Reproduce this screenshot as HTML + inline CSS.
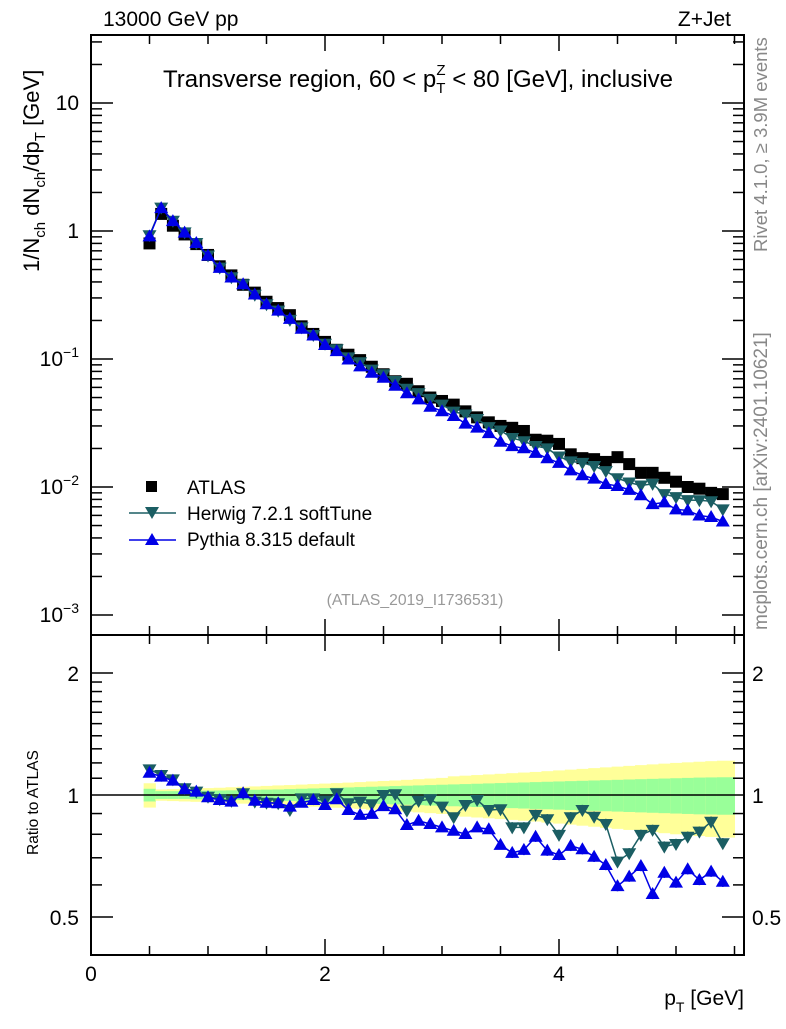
<!DOCTYPE html>
<html><head><meta charset="utf-8"><style>
body{margin:0;background:#fff;width:786px;height:1024px;overflow:hidden}
svg{font-family:"Liberation Sans",sans-serif}
</style></head><body>
<svg id="c" width="786" height="1024" xmlns="http://www.w3.org/2000/svg"></svg>
<script>
const xs=[0.5,0.6,0.7,0.8,0.9,1.0,1.1,1.2,1.3,1.4,1.5,1.6,1.7,1.8,1.9,2.0,2.1,2.2,2.3,2.4,2.5,2.6,2.7,2.8,2.9,3.0,3.1,3.2,3.3,3.4,3.5,3.6,3.7,3.8,3.9,4.0,4.1,4.2,4.3,4.4,4.5,4.6,4.7,4.8,4.9,5.0,5.1,5.2,5.3,5.4];
const atlas=[0.80,1.36,1.10,0.94,0.79,0.65,0.53,0.45,0.38,0.33,0.28,0.25,0.22,0.18,0.157,0.136,0.118,0.108,0.098,0.087,0.076,0.067,0.064,0.056,0.050,0.047,0.044,0.039,0.035,0.032,0.030,0.029,0.0274,0.0234,0.023,0.0217,0.018,0.0168,0.0165,0.0157,0.0171,0.0151,0.0129,0.0129,0.0118,0.0110,0.0100,0.0097,0.0090,0.0088];
const herwigRatio=[1.157,1.12,1.093,1.039,1.019,0.99,0.976,0.967,1.01,0.963,0.957,0.954,0.918,0.981,0.981,0.968,1.01,0.954,0.963,0.949,1.0,1.004,0.915,0.967,0.976,0.936,0.881,0.945,0.972,0.918,0.922,0.832,0.832,0.893,0.871,0.797,0.881,0.918,0.884,0.848,0.685,0.718,0.797,0.82,0.746,0.757,0.789,0.812,0.859,0.76];
const pythiaRatio=[1.135,1.11,1.085,1.033,1.019,0.987,0.972,0.963,1.01,0.968,0.957,0.954,0.936,0.957,0.972,0.945,0.976,0.918,0.893,0.898,0.939,0.922,0.843,0.864,0.848,0.832,0.816,0.801,0.832,0.823,0.753,0.72,0.732,0.789,0.729,0.711,0.749,0.735,0.704,0.672,0.596,0.629,0.668,0.57,0.643,0.608,0.656,0.617,0.647,0.611];
const bandGreen=[0.036,0.022,0.022,0.022,0.024,0.025,0.026,0.027,0.028,0.03,0.031,0.032,0.034,0.036,0.038,0.04,0.042,0.044,0.046,0.048,0.05,0.052,0.054,0.056,0.058,0.06,0.062,0.064,0.066,0.068,0.07,0.072,0.074,0.076,0.078,0.08,0.082,0.084,0.086,0.088,0.09,0.092,0.094,0.096,0.098,0.1,0.102,0.104,0.105,0.106];
const bandYellow=[0.069,0.032,0.034,0.036,0.038,0.04,0.042,0.045,0.048,0.05,0.053,0.056,0.058,0.061,0.064,0.067,0.07,0.073,0.076,0.08,0.083,0.086,0.09,0.094,0.098,0.102,0.112,0.116,0.12,0.124,0.128,0.132,0.136,0.14,0.145,0.15,0.155,0.16,0.165,0.17,0.175,0.18,0.185,0.19,0.195,0.2,0.204,0.208,0.212,0.215];
const xTicks=[0,2,4];
const yTicks=[10,1,0.1,0.01,0.001];
const yTickLabels=["10","1","10^-1","10^-2","10^-3"];
const rTicks=[0.5,1,2];
const rTickLabels=["0.5","1","2"];

const L=91,R=744,T=35,MB=635,RB=955;
const X=v=>L+117*v;
const Y=v=>231-128*Math.log10(v);
const RY=r=>795-122*Math.log2(r);
const svg=document.getElementById('c');
const NS='http://www.w3.org/2000/svg';
function mk(tag,attrs,parent){const e=document.createElementNS(NS,tag);for(const k in attrs)e.setAttribute(k,attrs[k]);(parent||svg).appendChild(e);return e;}
function txt(s,attrs,parent){const e=mk('text',attrs,parent);e.textContent=s;return e;}

// bands
const gb=mk('g',{});


xs.forEach((x,i)=>{
  const x0=X(x-0.05),x1=X(i==xs.length-1?x+0.1:x+0.05);
  const ey=bandYellow[i],eg=bandGreen[i];
  const ry=mk('rect',{x:x0,y:RY(1+ey),width:x1-x0+0.5,height:RY(1-ey)-RY(1+ey),fill:'#ffff99'},gb);
  
  
  const rg=mk('rect',{x:x0,y:RY(1+eg),width:x1-x0+0.5,height:RY(1-eg)-RY(1+eg),fill:'#99ff99'},gb);
  
  
});
mk('line',{x1:L,x2:R,y1:RY(1),y2:RY(1),stroke:'#000','stroke-width':1.5});

// frames
const f1=mk('rect',{x:L,y:T,width:R-L,height:MB-T,fill:'none',stroke:'#000','stroke-width':2});


const f2=mk('rect',{x:L,y:MB,width:R-L,height:RB-MB,fill:'none',stroke:'#000','stroke-width':2});



// x ticks
for(let v=0;v<=5.6;v+=0.5){
  const x=X(v),maj=Math.abs(v-Math.round(v/2)*2)<1e-6;const len=maj?16:9;
  [[T,1],[MB,-1],[MB,1],[RB,-1]].forEach(([y,d])=>mk('line',{x1:x,x2:x,y1:y,y2:y+d*len,stroke:'#000','stroke-width':1.5}));
}
xTicks.forEach(v=>{const t=txt(String(v),{x:X(v),y:981,'font-size':21,'text-anchor':'middle'});

});
// main y ticks
for(let e=-3;e<=1;e++){for(let m=1;m<10;m++){const v=m*Math.pow(10,e);const y=Y(v);if(y<T||y>MB)continue;const len=m==1?22:11;
 mk('line',{x1:L,x2:L+len,y1:y,y2:y,stroke:'#000','stroke-width':1.5});mk('line',{x1:R,x2:R-len,y1:y,y2:y,stroke:'#000','stroke-width':1.5});}}
yTicks.forEach((v,i)=>{const s=yTickLabels[i];const y=Y(v)+7;
 let t;
 if(s.includes('^')){const [b,p]=s.split('^');t=txt('',{x:79,y:y,'font-size':21,'text-anchor':'end'});
  const a=mk('tspan',{},t);a.textContent=b;const c=mk('tspan',{dy:-9,'font-size':14},t);c.textContent=p.replace('-','\u2212');}
 else t=txt(s,{x:79,y:y,'font-size':21,'text-anchor':'end'});
 
 });
// ratio ticks
[0.5,0.6,0.7,0.8,0.9,1.1,1.2,1.3,1.4,1.5,1.6,1.7,1.8,1.9,2].forEach(r=>{const y=RY(r);const len=(r==0.5||r==2)?22:11;
 mk('line',{x1:L,x2:L+len,y1:y,y2:y,stroke:'#000','stroke-width':1.5});mk('line',{x1:R,x2:R-len,y1:y,y2:y,stroke:'#000','stroke-width':1.5});});
rTicks.forEach((r,i)=>{const y=RY(r)+8;
 const a=txt(rTickLabels[i],{x:79,y:y,'font-size':21,'text-anchor':'end'});
 
 
 const b=txt(rTickLabels[i],{x:752,y:y,'font-size':21});
 
 });

// markers
function sq(x,y,g){return mk('rect',{x:x-6,y:y-6,width:12,height:12,fill:'#000'},g);}
function tri(x,y,up,col,g){const s=7;return mk('polygon',{points:up?`${x-s},${y+5} ${x+s},${y+5} ${x},${y-7}`:`${x-s},${y-5} ${x+s},${y-5} ${x},${y+7}`,fill:col},g);}
function series(vals,ratio,col,up,name){
  const g=mk('g',{});
  
  
  const pm=xs.map((x,i)=>X(x)+','+Y(atlas[i]*ratio[i])).join(' ');
  mk('polyline',{points:pm,fill:'none',stroke:col,'stroke-width':1.5},g);
  const pr=xs.map((x,i)=>X(x)+','+RY(ratio[i])).join(' ');
  mk('polyline',{points:pr,fill:'none',stroke:col,'stroke-width':1.5},g);
  xs.forEach((x,i)=>{
    const m=tri(X(x),Y(atlas[i]*ratio[i]),up,col,g);
    
    
    const e=i>30?0.03:0.01;
    mk('line',{x1:X(x),x2:X(x),y1:RY(ratio[i]*(1+e)),y2:RY(ratio[i]/(1+e)),stroke:col,'stroke-width':1.5},g);
    const r=tri(X(x),RY(ratio[i]),up,col,g);
    
    
  });
}
const ga=mk('g',{});


xs.forEach((x,i)=>{const s=sq(X(x),Y(atlas[i]),ga);
 
 });
series(atlas,herwigRatio,'#1b5e63',false,'herwig-series');
series(atlas,pythiaRatio,'#0000e6',true,'pythia-series');

// legend
const lg=mk('g',{});


mk('rect',{x:146,y:481,width:11,height:11,fill:'#000'},lg);
txt('ATLAS',{x:187,y:494,'font-size':19},lg);
mk('line',{x1:129,x2:176,y1:513,y2:513,stroke:'#1b5e63','stroke-width':1.5},lg);
tri(152,512,false,'#1b5e63',lg);
txt('Herwig 7.2.1 softTune',{x:187,y:520,'font-size':19},lg);
mk('line',{x1:129,x2:176,y1:540,y2:540,stroke:'#0000e6','stroke-width':1.5},lg);
tri(152,540,true,'#0000e6',lg);
txt('Pythia 8.315 default',{x:187,y:546,'font-size':19},lg);
</script>
<svg width="786" height="1024" style="position:absolute;left:0;top:0" xmlns="http://www.w3.org/2000/svg">
<text x="103" y="26" font-size="21">13000 GeV pp</text>
<text x="731" y="26" font-size="21" text-anchor="end">Z+Jet</text>
<text x="418" y="87" font-size="24" text-anchor="middle">Transverse region, 60 &lt; p<tspan dy="6" font-size="15">T</tspan><tspan dy="-18" dx="-9" font-size="15">Z</tspan><tspan dy="12"> &lt; 80 [GeV], inclusive</tspan></text>
<text x="415" y="605" font-size="15.7" fill="#999" text-anchor="middle">(ATLAS_2019_I1736531)</text>
<text transform="translate(39,272) rotate(-90)" font-size="22">1/N<tspan dy="6" font-size="15">ch</tspan><tspan dy="-6"> dN</tspan><tspan dy="6" font-size="15">ch</tspan><tspan dy="-6">/dp</tspan><tspan dy="6" font-size="15">T</tspan><tspan dy="-6"> [GeV]</tspan></text>
<text transform="translate(38,855) rotate(-90)" font-size="15.5">Ratio to ATLAS</text>
<text x="744" y="1005" font-size="21" text-anchor="end">p<tspan dy="7" font-size="14">T</tspan><tspan dy="-7"> [GeV]</tspan></text>
<text transform="translate(767,252) rotate(-90)" font-size="18.5" fill="#888">Rivet 4.1.0, ≥ 3.9M events</text>
<text transform="translate(767,630) rotate(-90)" font-size="19" fill="#888">mcplots.cern.ch [arXiv:2401.10621]</text>
</svg>
</body></html>
